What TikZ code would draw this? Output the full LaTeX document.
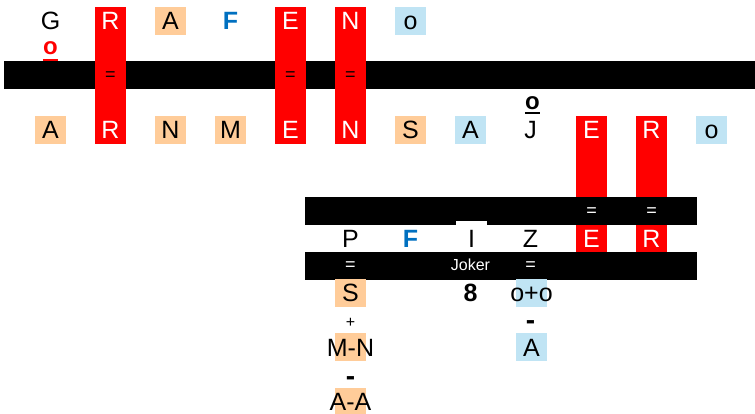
\documentclass[tikz,border=0pt]{standalone}
\usepackage{fontspec}
\setmainfont{Liberation Sans}
\definecolor{peach}{HTML}{FFCC99}
\definecolor{lblue}{HTML}{C0E4F4}
\definecolor{fblue}{HTML}{0070C0}
\definecolor{xred}{HTML}{FF0000}
\begin{document}
\begin{tikzpicture}[x=1pt,y=-1pt,
  lt/.style={inner sep=0pt, text height=18pt, text depth=0pt, font=\fontsize{25}{25}\selectfont, minimum width=31pt, minimum height=28pt},
  pbox/.style={lt, fill=peach},
  bbox/.style={lt, fill=lblue},
  wl/.style={lt, text=white},
  bl/.style={lt, text=fblue, font=\fontsize{25}{25}\selectfont\bfseries},
  emptybox/.style={inner sep=0pt, minimum width=31pt, minimum height=28pt},
  eq/.style={inner sep=0pt, anchor=base, font=\fontsize{18}{18}\selectfont},
  jk/.style={inner sep=0pt, anchor=base, font=\fontsize{16}{16}\selectfont, text=white},
  plus/.style={inner sep=0pt, anchor=base, font=\fontsize{16}{16}\selectfont},
  minus/.style={inner sep=0pt, anchor=base, font=\fontsize{28}{28}\selectfont\bfseries},
  uo/.style={inner sep=0pt, anchor=base, font=\fontsize{24}{24}\selectfont\bfseries},
  ul/.style={line width=2pt}
]
\useasboundingbox (0,0) rectangle (755,414);
% bar 1 and red columns (top)
\fill (4,61) rectangle (755,89);
\foreach \x in {95,275,335} \fill[xred] (\x,7) rectangle ++(31,137);
% red columns (right)
\foreach \x in {576,636} \fill[xred] (\x,116) rectangle ++(31,136);
% bars 2 and 3
\fill (305,197) rectangle (697,225);
\fill (305,252) rectangle (697,280);
\fill[white] (456,221) rectangle (487,252);

% row 1
\node[lt] (g1) at (50.5,21) {G};
\node[wl] (r1) at (110.5,21) {R};
\node[pbox] (a1) at (170.5,21) {A};
\node[bl] (f1) at (230.5,21) {F};
\node[wl] (e1) at (290.5,21) {E};
\node[wl] (n1) at (350.5,21) {N};
\node[bbox] (o1) at (410.5,21) {o};
\node[uo, text=xred] (ro) at (50.5,55) {o};
\draw[ul, xred] ([yshift=-5pt]ro.base west) -- ([yshift=-5pt]ro.base east);
% equals on bar 1
\node[eq] (q1) at (110.5,80.6) {=};
\node[eq] (q2) at (290.5,80.6) {=};
\node[eq] (q3) at (350.5,80.6) {=};

% row 2
\node[pbox] (a2) at (50.5,130) {A};
\node[wl] (r2) at (110.5,130) {R};
\node[pbox] (n2) at (170.5,130) {N};
\node[pbox] (m2) at (230.5,130) {M};
\node[wl] (e2) at (290.5,130) {E};
\node[wl] (nn2) at (350.5,130) {N};
\node[pbox] (s2) at (410.5,130) {S};
\node[bbox] (aa2) at (470.5,130) {A};
\node[lt] (j2) at (530.5,130) {J};
\node[wl] (ee2) at (591.5,130) {E};
\node[wl] (rr2) at (651.5,130) {R};
\node[bbox] (o2) at (711.5,130) {o};
\node[uo] (jo) at (532.5,110) {o};
\draw[ul] ([yshift=-3pt]jo.base west) -- ([yshift=-3pt]jo.base east);
% equals on bar 2
\node[eq, text=white] (q4) at (591.5,216.6) {=};
\node[eq, text=white] (q5) at (651.5,216.6) {=};

% row P
\node[lt] (p3) at (350.5,238.5) {P};
\node[bl] (f3) at (410.5,238.5) {F};
\node[lt] (i3) at (471.5,238.5) {I};
\node[lt] (z3) at (530.5,238.5) {Z};
\node[wl] (e3) at (591.5,238.5) {E};
\node[wl] (r3) at (651.5,238.5) {R};
% bar 3 texts
\node[eq, text=white] (q6) at (350.5,270.6) {=};
\node[jk] (jok) at (470.5,270.7) {Joker};
\node[eq, text=white] (q7) at (530.5,270.6) {=};

% lower rows
\node[pbox] (s4) at (350.5,292.5) {S};
\node[lt, font=\fontsize{25}{25}\selectfont\bfseries] (e8) at (470.5,292.5) {8};
\node[emptybox, fill=lblue] (oob) at (531.5,292.5) {};
\node[lt] (oo) at (oob) {o+o};
\node[plus] (pl) at (350.5,327) {+};
\node[minus] (mi1) at (530.5,329.5) {-};
\node[emptybox, fill=peach] (mnb) at (350.5,347) {};
\node[lt] (mn) at (mnb) {M-N};
\node[bbox] (a5) at (531.5,347) {A};
\node[minus] (mi2) at (350.5,385) {-};
\node[emptybox, fill=peach, minimum height=26pt, anchor=north] (aab) at (350.5,388) {};
\node[lt, minimum height=0pt, anchor=base] (aa) at (350.5,410.5) {A-A};
\end{tikzpicture}
\end{document}
